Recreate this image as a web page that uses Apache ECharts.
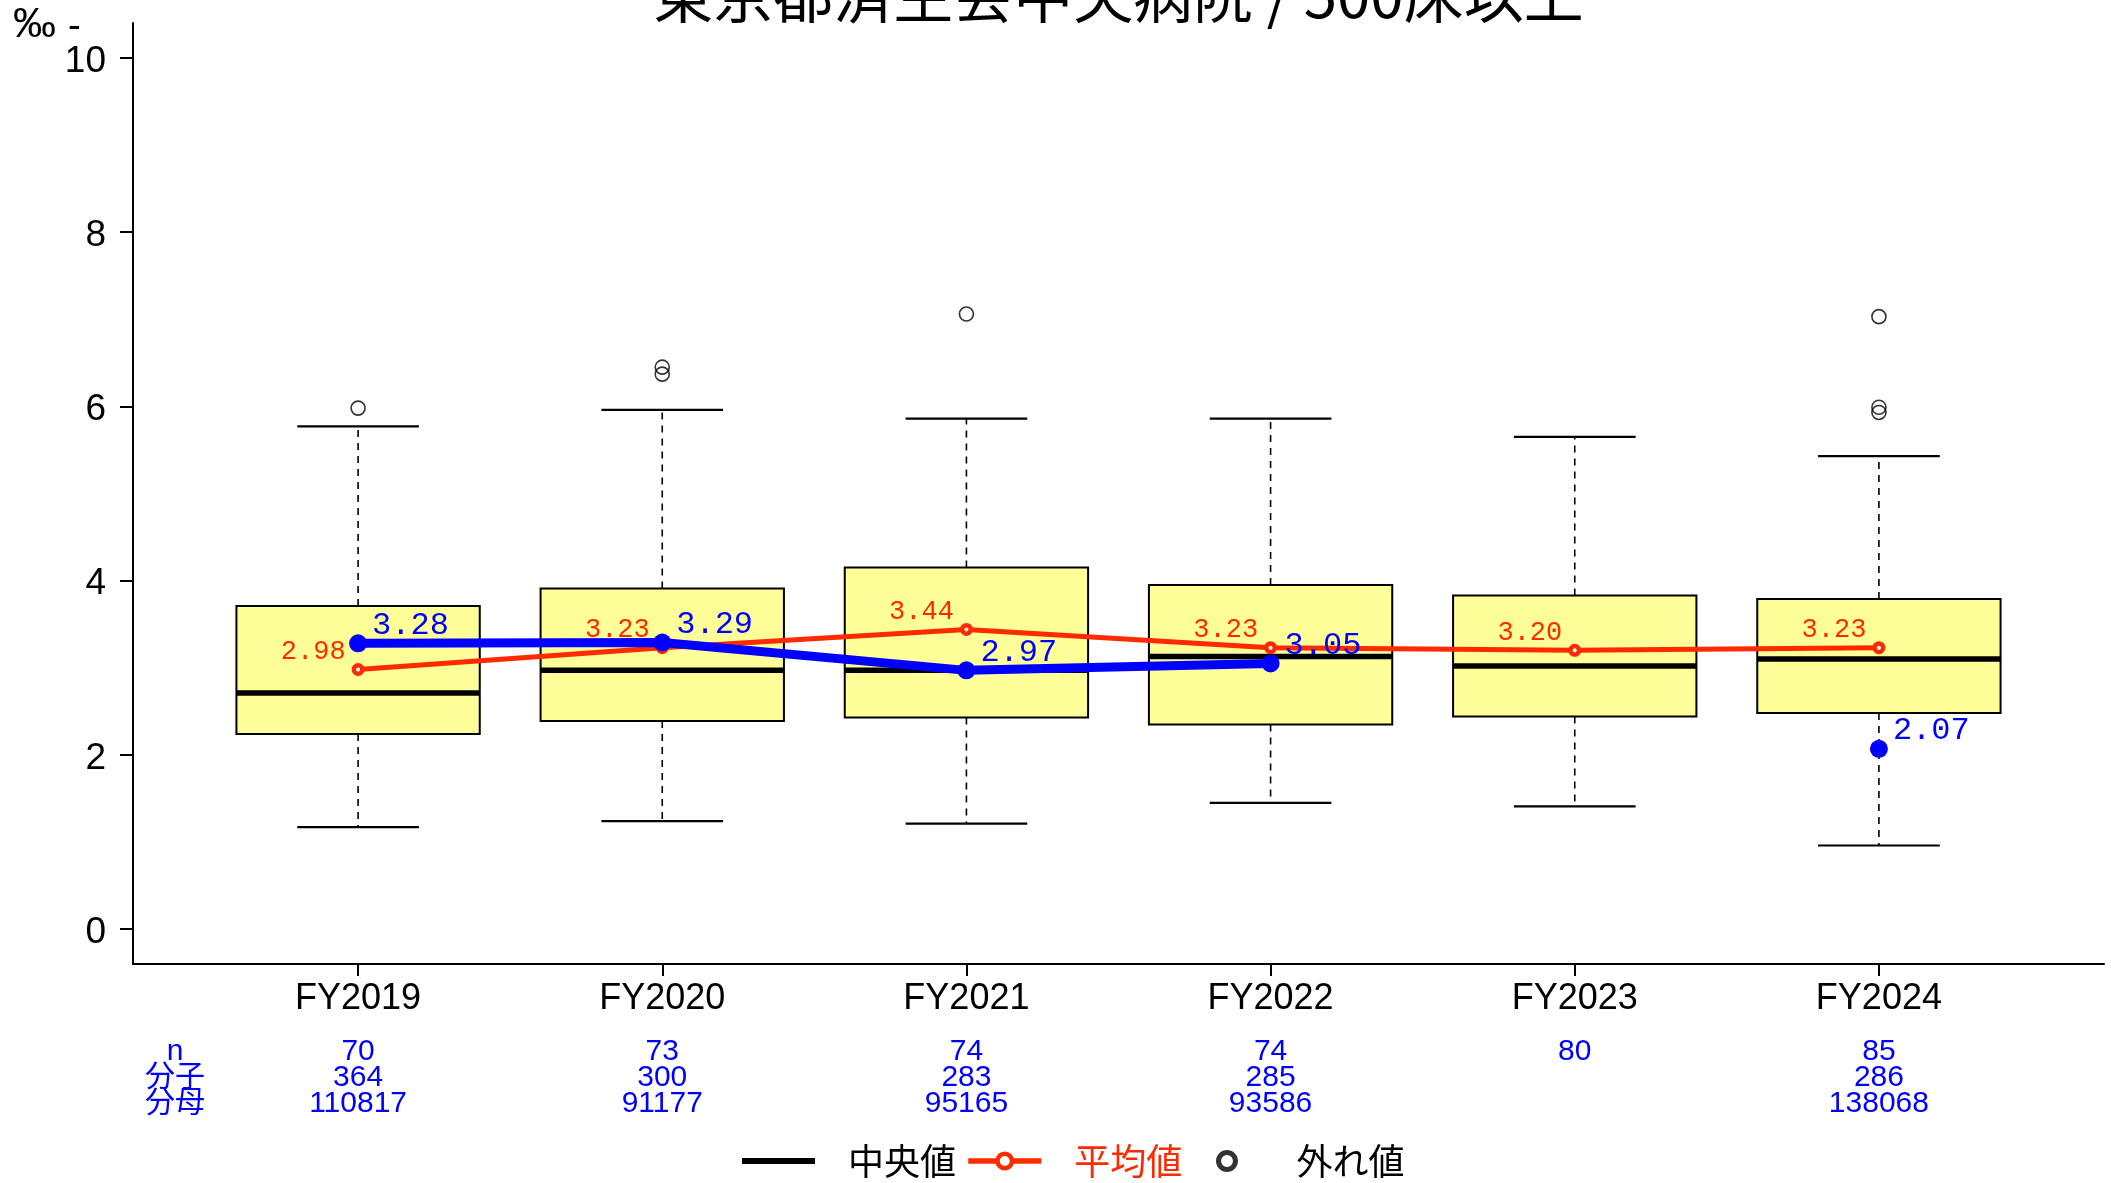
<!DOCTYPE html>
<html>
<head>
<meta charset="utf-8">
<script src="https://cdn.jsdelivr.net/npm/echarts@6/dist/echarts.min.js"></script>
<style>
html,body{margin:0;padding:0;background:#fff;}
#c{width:2111px;height:1183px;}
</style>
</head>
<body>
<div id="c"></div>
<script>
// ---- data ----
const categories = ['FY2019', 'FY2020', 'FY2021', 'FY2022', 'FY2023', 'FY2024'];
const whiskerLow  = [1.17, 1.24, 1.21, 1.45, 1.41, 0.96];
const quartile1   = [2.24, 2.39, 2.43, 2.35, 2.44, 2.48];
const medianVals  = [2.71, 2.97, 2.97, 3.13, 3.02, 3.10];
const quartile3   = [3.71, 3.91, 4.15, 3.95, 3.83, 3.79];
const whiskerHigh = [5.77, 5.96, 5.86, 5.86, 5.65, 5.43];
const meanVals    = [2.98, 3.23, 3.44, 3.23, 3.20, 3.23];
const hospitalVals = [3.28, 3.29, 2.97, 3.05, null, 2.07];
const outlierCats = ['FY2019', 'FY2020', 'FY2020', 'FY2021', 'FY2024', 'FY2024', 'FY2024'];
const outlierVals = [5.98, 6.45, 6.37, 7.06, 7.03, 5.99, 5.93];
const nVals   = [70, 73, 74, 74, 80, 85];
const numVals = [364, 300, 283, 285, null, 286];
const denVals = [110817, 91177, 95165, 93586, null, 138068];
const yTickVals = [0, 2, 4, 6, 8, 10];
const titleText = '東京都済生会中央病院 / 500床以上';

// ---- styling constants ----
const RED = '#FF2A00';
const BLUE = '#0000FF';
const BOX_FILL = '#FFFF99';
const BOX_W = 0.8, CAP_W = 0.4;
const RING_ICON = 'path://M10,0A10,10 0 1,1 -10,0A10,10 0 1,1 10,0Z M5.4,0A5.4,5.4 0 1,0 -5.4,0A5.4,5.4 0 1,0 5.4,0Z';
const JP = 'Noto Sans CJK JP';

const xs = categories.map((_, i) => i + 1);
const boxData = categories.map((_, i) => [i + 1, whiskerLow[i], quartile1[i], medianVals[i], quartile3[i], whiskerHigh[i]]);
const meanData = categories.map((_, i) => [i + 1, meanVals[i]]);
const hospData = categories.map((_, i) => [i + 1, hospitalVals[i] == null ? '-' : hospitalVals[i]]);
const outlierData = outlierCats.map((c, i) => [categories.indexOf(c) + 1, outlierVals[i]]);

function renderBox(params, api) {
  const x = api.value(0);
  const pLow = api.coord([x, api.value(1)]);
  const pQ1 = api.coord([x, api.value(2)]);
  const pMed = api.coord([x, api.value(3)]);
  const pQ3 = api.coord([x, api.value(4)]);
  const pHigh = api.coord([x, api.value(5)]);
  const bw = api.size([BOX_W, 0])[0];
  const cw = api.size([CAP_W, 0])[0];
  const cx = pMed[0];
  const dashStyle = {stroke: '#000', lineWidth: 1.6, lineDash: [7, 6]};
  const solid = {stroke: '#000', lineWidth: 2.2};
  return {
    type: 'group',
    children: [
      {type: 'line', shape: {x1: cx, y1: pQ3[1], x2: cx, y2: pHigh[1]}, style: dashStyle},
      {type: 'line', shape: {x1: cx, y1: pQ1[1], x2: cx, y2: pLow[1]}, style: dashStyle},
      {type: 'line', shape: {x1: cx - cw / 2, y1: pHigh[1], x2: cx + cw / 2, y2: pHigh[1]}, style: solid},
      {type: 'line', shape: {x1: cx - cw / 2, y1: pLow[1], x2: cx + cw / 2, y2: pLow[1]}, style: solid},
      {type: 'rect', shape: {x: cx - bw / 2, y: pQ3[1], width: bw, height: pQ1[1] - pQ3[1]},
        style: {fill: BOX_FILL, stroke: '#000', lineWidth: 2}},
      {type: 'line', shape: {x1: cx - bw / 2, y1: pMed[1], x2: cx + bw / 2, y2: pMed[1]},
        style: {stroke: '#000', lineWidth: 5.5}}
    ]
  };
}

const legendText = {fontSize: 36, fontFamily: JP,
  rich: {
    s: {width: 28, fontSize: 36, fontFamily: JP},
    k: {color: '#000', fontSize: 36, fontFamily: JP},
    r: {color: RED, fontSize: 36, fontFamily: JP}
  }};
const legendFormatter = name => '{s| }{' + (name === '平均値' ? 'r' : 'k') + '|' + name + '}';

const chart = echarts.init(document.getElementById('c'), null, {renderer: 'canvas'});
const option = {
  animation: false,
  backgroundColor: '#fff',
  grid: {left: 133, right: 7, top: 23, bottom: 219},
  xAxis: [
    {
      type: 'value', min: 0.26, max: 6.74, position: 'bottom',
      axisLine: {show: true, onZero: false, lineStyle: {color: '#000', width: 2}},
      axisTick: {show: true, length: 12, customValues: xs, lineStyle: {color: '#000', width: 2}},
      axisLabel: {customValues: xs, formatter: v => categories[Math.round(v) - 1],
        margin: 17, fontSize: 36, color: '#000', fontFamily: 'Liberation Sans'},
      splitLine: {show: false}
    },
    {
      type: 'value', min: 0.26, max: 6.74, position: 'bottom', gridIndex: 0,
      axisLine: {show: false, onZero: false}, axisTick: {show: false}, splitLine: {show: false},
      axisLabel: {customValues: xs,
        formatter: v => {
          const i = Math.round(v) - 1;
          return [nVals[i], numVals[i], denVals[i]].map(t => t == null ? '' : String(t)).join('\n');
        },
        margin: 74.5, fontSize: 30, lineHeight: 26, color: BLUE, fontFamily: 'Liberation Sans'}
    }
  ],
  yAxis: {
    type: 'value', min: -0.4, max: 10.4,
    axisLine: {show: true, onZero: false, lineStyle: {color: '#000', width: 2}},
    axisTick: {show: true, length: 13, customValues: yTickVals, lineStyle: {color: '#000', width: 2}},
    axisLabel: {customValues: yTickVals, margin: 27, color: '#000',
      formatter: v => '{t|' + v + '}',
      rich: {t: {fontSize: 37, fontFamily: 'Liberation Sans', color: '#000', padding: [7, 0, 0, 0]}}},
    splitLine: {show: false}
  },
  legend: [
    {
      left: 742, top: 1143, itemWidth: 73, itemHeight: 18, itemGap: 9.5, padding: 0,
      selectedMode: false, formatter: legendFormatter, textStyle: legendText,
      data: [
        {name: '中央値', icon: 'path://M0,0H74V6H0Z', itemStyle: {color: '#000', borderWidth: 0}},
        {name: '平均値', lineStyle: {width: 5.5, color: RED}, itemStyle: {color: '#fff', borderColor: RED, borderWidth: 4.5}}
      ]
    },
    {
      left: 1216, top: 1143, itemWidth: 73, itemHeight: 22, padding: 0,
      selectedMode: false, formatter: legendFormatter, textStyle: legendText,
      data: [
        {name: '外れ値', icon: RING_ICON, itemStyle: {color: '#000', borderWidth: 0}}
      ]
    }
  ],
  graphic: [
    {type: 'text', x: 1118.5, y: -35, z: 10,
      style: {text: titleText, fontSize: 60, fontFamily: JP, fill: '#000', textAlign: 'center', textVerticalAlign: 'top'}},
    {type: 'text', x: 13, y: 4,
      style: {text: '‰', fontSize: 43, fontFamily: 'Liberation Sans', fill: '#000', textAlign: 'left', textVerticalAlign: 'top'}},
    {type: 'text', x: 68, y: 9,
      style: {text: '-', fontSize: 38, fontFamily: 'Liberation Sans', fill: '#000', textAlign: 'left', textVerticalAlign: 'top'}},
    {type: 'text', x: 175, y: 1038.5,
      style: {text: 'n\n分子\n分母', fontSize: 30, lineHeight: 26, fontFamily: 'Liberation Sans, Noto Sans CJK JP', fill: BLUE, textAlign: 'center', textVerticalAlign: 'top'}}
  ],
  series: [
    {
      name: '中央値', type: 'custom', renderItem: renderBox, data: boxData, z: 2,
      encode: {x: 0, y: [1, 2, 3, 4, 5]}, itemStyle: {color: '#000'}
    },
    {
      name: '外れ値', type: 'scatter', data: outlierData, z: 3,
      symbol: 'circle', symbolSize: 14,
      itemStyle: {color: 'transparent', borderColor: '#000', borderWidth: 1.6}
    },
    {
      name: '平均値', type: 'line', data: meanData, z: 4,
      symbol: 'circle', symbolSize: 8.5,
      lineStyle: {color: RED, width: 5},
      itemStyle: {color: '#fff', borderColor: RED, borderWidth: 4.5},
      label: {show: true, position: 'left', distance: 6, align: 'right', verticalAlign: 'bottom', offset: [0, -4],
        formatter: p => Number(p.value[1]).toFixed(2), color: RED, fontSize: 27, fontFamily: 'Liberation Mono'}
    },
    {
      name: '病院', type: 'line', data: hospData, z: 5,
      symbol: 'circle', symbolSize: 18, connectNulls: false,
      lineStyle: {color: BLUE, width: 9},
      itemStyle: {color: BLUE},
      label: {show: true, position: 'right', distance: 5, align: 'left', verticalAlign: 'bottom', offset: [0, -2],
        formatter: p => Number(p.value[1]).toFixed(2), color: BLUE, fontSize: 32, fontFamily: 'Liberation Mono'}
    }
  ]
};
chart.setOption(option);
</script>
</body>
</html>
